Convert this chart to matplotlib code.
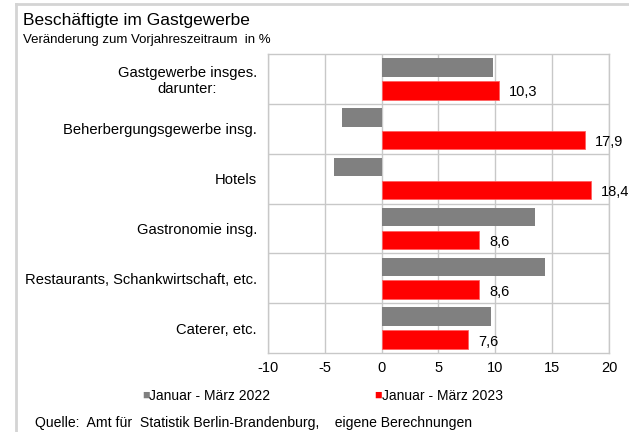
import matplotlib
matplotlib.use("Agg")
import matplotlib.pyplot as plt
from matplotlib.lines import Line2D
import numpy as np

plt.rcParams['font.family'] = ['Liberation Sans', 'DejaVu Sans']
plt.rcParams['axes.unicode_minus'] = False

categories = [
    "Gastgewerbe insges.\ndarunter:",
    "Beherbergungsgewerbe insg.",
    "Hotels",
    "Gastronomie insg.",
    "Restaurants, Schankwirtschaft, etc.",
    "Caterer, etc.",
]
werte_2022 = [9.8, -3.5, -4.2, 13.5, 14.4, 9.6]
werte_2023 = [10.3, 17.9, 18.4, 8.6, 8.6, 7.6]
label_2022 = "Januar - März 2022"
label_2023 = "Januar - März 2023"

grau = "#808080"
rot = "#ff0000"
gitter = "#c8c8c8"

fig = plt.figure(figsize=(6.29, 4.32), dpi=100)
ax = fig.add_axes([268 / 629, 1 - 353 / 432, 341 / 629, 299 / 432])

y = np.arange(len(categories))
h = 0.37
ax.barh(y - 0.23, werte_2022, height=h, color=grau, label=label_2022, zorder=3)
ax.barh(y + 0.23, werte_2023, height=h, color=rot, edgecolor="#ff6060",
        linewidth=0.6, label=label_2023, zorder=3)

for yi, v in zip(y, werte_2023):
    ax.text(v + 0.9, yi + 0.27, f"{v:.1f}".replace(".", ","),
            va="center", ha="left", fontsize=10.5)

ax.set_xlim(-10, 20)
ax.set_ylim(len(categories) - 0.5, -0.5)
ax.set_xticks(np.arange(-10, 21, 5))
ax.set_yticks(y)
ax.set_yticklabels(categories, fontsize=10.6, linespacing=1.1,
                   multialignment="center")
ax.tick_params(axis="x", labelsize=10.5, length=0, pad=6)
ax.tick_params(axis="y", length=0, pad=8)

# vertical grid at each tick, horizontal lines between categories
for xv in np.arange(-10, 21, 5):
    ax.axvline(xv, color=gitter, linewidth=1, zorder=1)
for yb in np.arange(0.5, len(categories) - 0.5, 1):
    ax.axhline(yb, color=gitter, linewidth=1, zorder=1)
for s in ax.spines.values():
    s.set_color(gitter)
    s.set_linewidth(1)

# legend markers and text placed below the axis
fig.text(142 / 629, 1 - 396 / 432, "\u25a0", color=grau, fontsize=9, va="center")
fig.text(149 / 629, 1 - 396 / 432, label_2022, fontsize=10, va="center")
fig.text(374 / 629, 1 - 396 / 432, "\u25a0", color=rot, fontsize=9, va="center")
fig.text(382 / 629, 1 - 396 / 432, label_2023, fontsize=10, va="center")

fig.text(23 / 629, 1 - 20 / 432, "Beschäftigte im Gastgewerbe",
         fontsize=12.5, va="center")
fig.text(23 / 629, 1 - 40 / 432, "Veränderung zum Vorjahreszeitraum  in %",
         fontsize=9.5, va="center")
fig.text(35 / 629, 1 - 423 / 432,
         "Quelle:  Amt für  Statistik Berlin-Brandenburg,    eigene Berechnungen",
         fontsize=10.1, va="center")

# outer frame along top and left edge
fig.add_artist(Line2D([16 / 629, 16 / 629], [0, 1 - 4 / 432],
                      transform=fig.transFigure, color="#d4d4d4", linewidth=2))
fig.add_artist(Line2D([16 / 629, 1], [1 - 4 / 432, 1 - 4 / 432],
                      transform=fig.transFigure, color="#d4d4d4", linewidth=2))

fig.savefig("out.png", dpi=100)
